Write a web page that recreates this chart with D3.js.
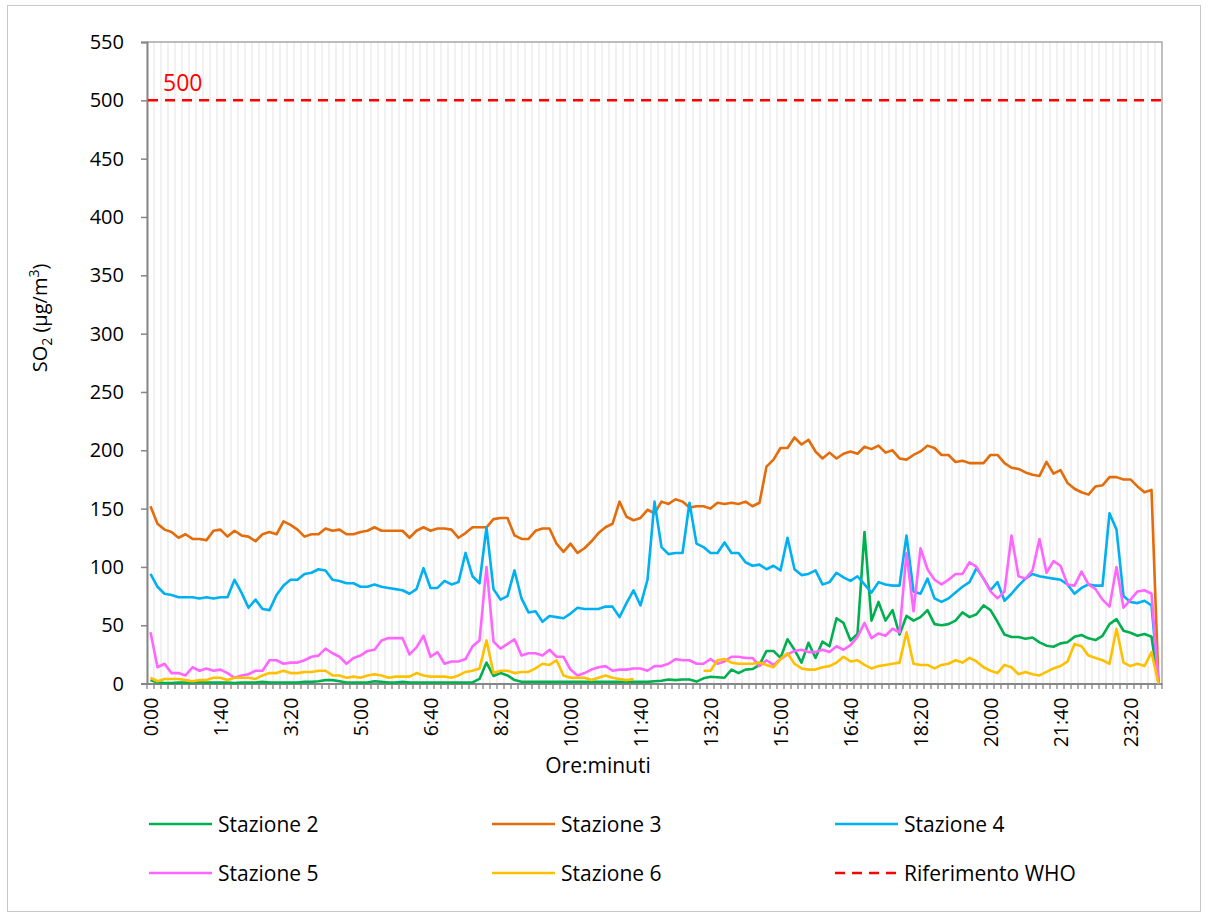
<!DOCTYPE html>
<html>
<head>
<meta charset="utf-8">
<script src="https://cdn.jsdelivr.net/npm/d3@7"></script>
<style>
  body { margin: 0; background: #fff; }
  text { font-family: "Open Sans", sans-serif; }
</style>
</head>
<body>
<script>
// valori, un punto ogni 10 minuti (0:00 .. 24:00)
var stazione2 = [3,1,0.5,0.5,1,1,1,1.5,1,1, 1,1,0.5,1,1,1,1.5,1,1,1, 1,1,1.5,1.5,2,3,3,2,1,1, 1,1,2,1.5,1,1,1.5,1,1,1,
  1,1,1,1,1,1,1,4,18,6.5, 9,7,3,1.5,1.5,1.5,1.5,1.5,1.5,1.5, 1.5,1.5,1.5,1.5,1.5,1.5,1.5,1.5,1.5,1.5, 1.5,1.5,2,2.5,3.5,3,3.5,3.5,1.7,4.5,
  5.9,5.5,5,12,9,12,12.5,16,28,28, 22,38,29,18,35,22,36,32,56,52, 37,42.5,130,54,70,54,63,42,58,54, 57,63,51,50,51,54,61,57,59.5,67,
  63,53,42,40,40,38.5,39.5,35.4,32.5,31.6, 34.5,35.4,40.2,41.7,38.8,37.3,41,51,55.3,45.3, 43.6,41,42.5,40.2,0];
var stazione3 = [152,137,132,130,125,128,124,124,123,131, 132,126,131,127,126,122,128,130,128,139, 136,132,126,128,128,133,131,132,128,128, 130,131,134,131,131,131,131,125,131,134,
  131,133,133,132,125,129,134,134,134,141, 142,142,127,124,124,131,133,133,120,113, 120,112,116,122,129,134,137,156,143,140, 142,149,146,156,154,158,156,151,152,152,
  150,155,154,155,154,156,152,155,186,192, 202,202,211,205,209,199,193,198,193,197, 199,197,203,201,204,198,200,193,192,196, 199,204,202,196,196,190,191,189,189,189,
  196,196,189,185,184,181,179,178,190,180, 183,172,167,164,162,169,170,177,177,175, 175,169,164,166,0];
var stazione4 = [94,83,77,76,74,74,74,73,74,73, 74,74,89,78,65,72,64,63,76,84, 89,89,94,95,98,97,89,88,86,86, 83,83,85,83,82,81,80,77,81,99,
  82,82,88,85,87,112,92,86,134,81, 72,75,97,73,61,62,53,58,57,56, 60,65,64,64,64,66,66,57,69,80, 67,89,156,117,111,112,112,155,120,117,
  112,112,121,112,112,104,101,102,98,101, 97,125,98,93,94,97,85,87,95,91, 88,92,85,78,87,85,84,84,127,79, 77,90,73,70,73,78,83,87,99,90,
  80,87,71,77,84,90,94,92,91,90, 89,85,77,82,85,84,84,146,132,75, 70,69,71,67,0];
var stazione5 = [44,14,17,9,9,7,14,11,13,11, 12,9,5,7,8,11,11,20,20,17, 18,18,20,23,24,30,26,23,17,22, 24,28,29,37,39,39,39,25,31,41,
  23,27,17,19,19,21,32,37,100,36, 30,34,38,24,26,26,24,29,23,23, 12,7,9,12,14,15,11,12,12,13, 13,11,15,15,17,21,20,20,17,17,
  21,17,19,23,23,22,22,15,20,16, 21,25,28,29,27,27,29,27,32,29, 33,40,52,39,43,41,47,44,112,62, 116,98,89,85,89,94,94,104,100,90,
  79,73,79,127,92,90,97,124,95,105, 101,85,84,96,85,81,72,66,100,65, 72,79,80,77,0];
var stazione6 = [5,2,4,4,4,3,2,3,3,5, 5,3,5,5,5,4,7,9,9,11, 9,9,10,10,11,11,7,7,5,6, 5,7,8,7,5,6,6,6,9,7,
  6,6,6,5,7,10,11,13,37,9, 11,11,9,10,10,13,17,16,20,7, 5,5,5,3,5,7,5,4,3,4, null,null,null,null,null,null,null,null,null,11,
  11,20,21,18,17,17,17,18,16,14, 21,26,17,13,12,12,14,15,18,23, 19,20,16,13,15,16,17,18,44,17, 16,16,13,16,17,20,18,22,19,14,
  11,9,16,14,8,10,8,7,10,13, 15,19,34,32,24,22,20,17,47,18, 15,17,15,27,0];
var riferimentoWHO = 500;

var etichetteOre = ["0:00","1:40","3:20","5:00","6:40","8:20","10:00","11:40","13:20","15:00","16:40","18:20","20:00","21:40","23:20"];
var yTicks = [0,50,100,150,200,250,300,350,400,450,500,550];

// categorie: ora:minuti ogni 10 minuti
var categorie = stazione3.map(function (d, i) {
  var m = i * 10;
  return Math.floor(m / 60) + ":" + ("0" + (m % 60)).slice(-2);
});

var serie = [
  { nome: "Stazione 2", colore: "#00b050", valori: stazione2 },
  { nome: "Stazione 3", colore: "#e46c0a", valori: stazione3 },
  { nome: "Stazione 4", colore: "#00b0f0", valori: stazione4 },
  { nome: "Stazione 5", colore: "#ff66ff", valori: stazione5 },
  { nome: "Stazione 6", colore: "#ffc000", valori: stazione6 }
];

var W = 1208, H = 917;
var pLeft = 147, pRight = 1162, pTop = 42, pBottom = 683.6;

var svg = d3.select("body").append("svg")
  .attr("width", W)
  .attr("height", H);

// cornice del grafico
svg.append("rect")
  .attr("x", 7.5).attr("y", 5.5)
  .attr("width", 1193).attr("height", 906)
  .attr("fill", "#fff")
  .attr("stroke", "#c9c9c9")
  .attr("stroke-width", 1);

var x = d3.scaleBand().domain(categorie).range([pLeft, pRight]);
var y = d3.scaleLinear().domain([0, 550]).range([pBottom, pTop]);
var cx = function (c) { return x(c) + x.bandwidth() / 2; };

// griglia verticale (una linea per categoria)
var bordi = categorie.map(function (c) { return x(c); }).concat([pRight]);
svg.append("g").selectAll("line").data(bordi)
  .enter().append("line")
  .attr("x1", function (d) { return d; })
  .attr("x2", function (d) { return d; })
  .attr("y1", pTop).attr("y2", pBottom)
  .attr("stroke", "#ececec")
  .attr("stroke-width", 1.5);

// bordo area del tracciato (sopra e a destra)
svg.append("path")
  .attr("d", "M" + pLeft + "," + pTop + "H" + pRight + "V" + pBottom)
  .attr("fill", "none")
  .attr("stroke", "#a6a6a6")
  .attr("stroke-width", 1.3);

// asse y
var yAxis = svg.append("g")
  .attr("transform", "translate(" + pLeft + ",0)")
  .call(d3.axisLeft(y).tickValues(yTicks).tickSize(6).tickPadding(17));
yAxis.select(".domain").attr("stroke", "#868686").attr("stroke-width", 2);
yAxis.selectAll(".tick line").attr("stroke", "#868686").attr("stroke-width", 1.5);
yAxis.selectAll(".tick text")
  .attr("font-family", "Open Sans, sans-serif")
  .attr("font-size", "20px")
  .attr("fill", "#000");

// asse x: tacche ai bordi delle categorie
svg.append("g").selectAll("line").data(bordi)
  .enter().append("line")
  .attr("x1", function (d) { return d; })
  .attr("x2", function (d) { return d; })
  .attr("y1", pBottom).attr("y2", pBottom + 5.5)
  .attr("stroke", "#868686")
  .attr("stroke-width", 1.3);

var xAxis = svg.append("g")
  .attr("transform", "translate(0," + pBottom + ")")
  .call(d3.axisBottom(x).tickValues(etichetteOre).tickSize(0));
xAxis.select(".domain").attr("stroke", "#868686").attr("stroke-width", 2);
xAxis.selectAll(".tick text")
  .attr("transform", "rotate(-90)")
  .attr("text-anchor", "end")
  .attr("x", -14)
  .attr("y", 0)
  .attr("dy", "0.36em")
  .attr("font-family", "Open Sans, sans-serif")
  .attr("font-size", "19.5px")
  .attr("fill", "#000");

// linee delle stazioni
var linea = d3.line()
  .defined(function (d) { return d != null; })
  .x(function (d, i) { return cx(categorie[i]); })
  .y(function (d) { return y(d); });

svg.append("g").selectAll("path").data(serie)
  .enter().append("path")
  .attr("d", function (s) { return linea(s.valori); })
  .attr("fill", "none")
  .attr("stroke", function (s) { return s.colore; })
  .attr("stroke-width", 2.6)
  .attr("stroke-linejoin", "round");

// riferimento WHO
svg.append("line")
  .attr("x1", pLeft + 1).attr("x2", pRight)
  .attr("y1", y(riferimentoWHO)).attr("y2", y(riferimentoWHO))
  .attr("stroke", "#ff0000")
  .attr("stroke-width", 2.5)
  .attr("stroke-dasharray", "10,7");

svg.append("text")
  .attr("x", 163).attr("y", 91)
  .attr("font-size", "23px")
  .attr("fill", "#ff0000")
  .text(riferimentoWHO);

// titoli assi
svg.append("text")
  .attr("x", 598).attr("y", 773)
  .attr("text-anchor", "middle")
  .attr("font-size", "21px")
  .text("Ore:minuti");

var yt = svg.append("text")
  .attr("transform", "translate(47,318) rotate(-90)")
  .attr("text-anchor", "middle")
  .attr("font-size", "20px");
yt.append("tspan").text("SO");
yt.append("tspan").attr("font-size", "14px").attr("dy", 5).text("2");
yt.append("tspan").attr("dy", -5).text(" (µg/m");
yt.append("tspan").attr("font-size", "14px").attr("dy", -8).text("3");
yt.append("tspan").attr("dy", 8).text(")");

// legenda
var legenda = serie.map(function (s) { return { nome: s.nome, colore: s.colore, dash: null }; })
  .concat([{ nome: "Riferimento WHO", colore: "#ff0000", dash: "10,7" }]);
var colX = [149, 492, 835], rigaY = [824, 873];

var voci = svg.append("g").selectAll("g").data(legenda)
  .enter().append("g")
  .attr("transform", function (d, i) {
    return "translate(" + colX[i % 3] + "," + rigaY[Math.floor(i / 3)] + ")";
  });
voci.append("line")
  .attr("x1", 0).attr("x2", 63)
  .attr("stroke", function (d) { return d.colore; })
  .attr("stroke-width", 2.6)
  .attr("stroke-dasharray", function (d) { return d.dash; });
voci.append("text")
  .attr("x", 69).attr("dy", "0.36em")
  .attr("font-size", "21px")
  .text(function (d) { return d.nome; });
</script>
</body>
</html>
